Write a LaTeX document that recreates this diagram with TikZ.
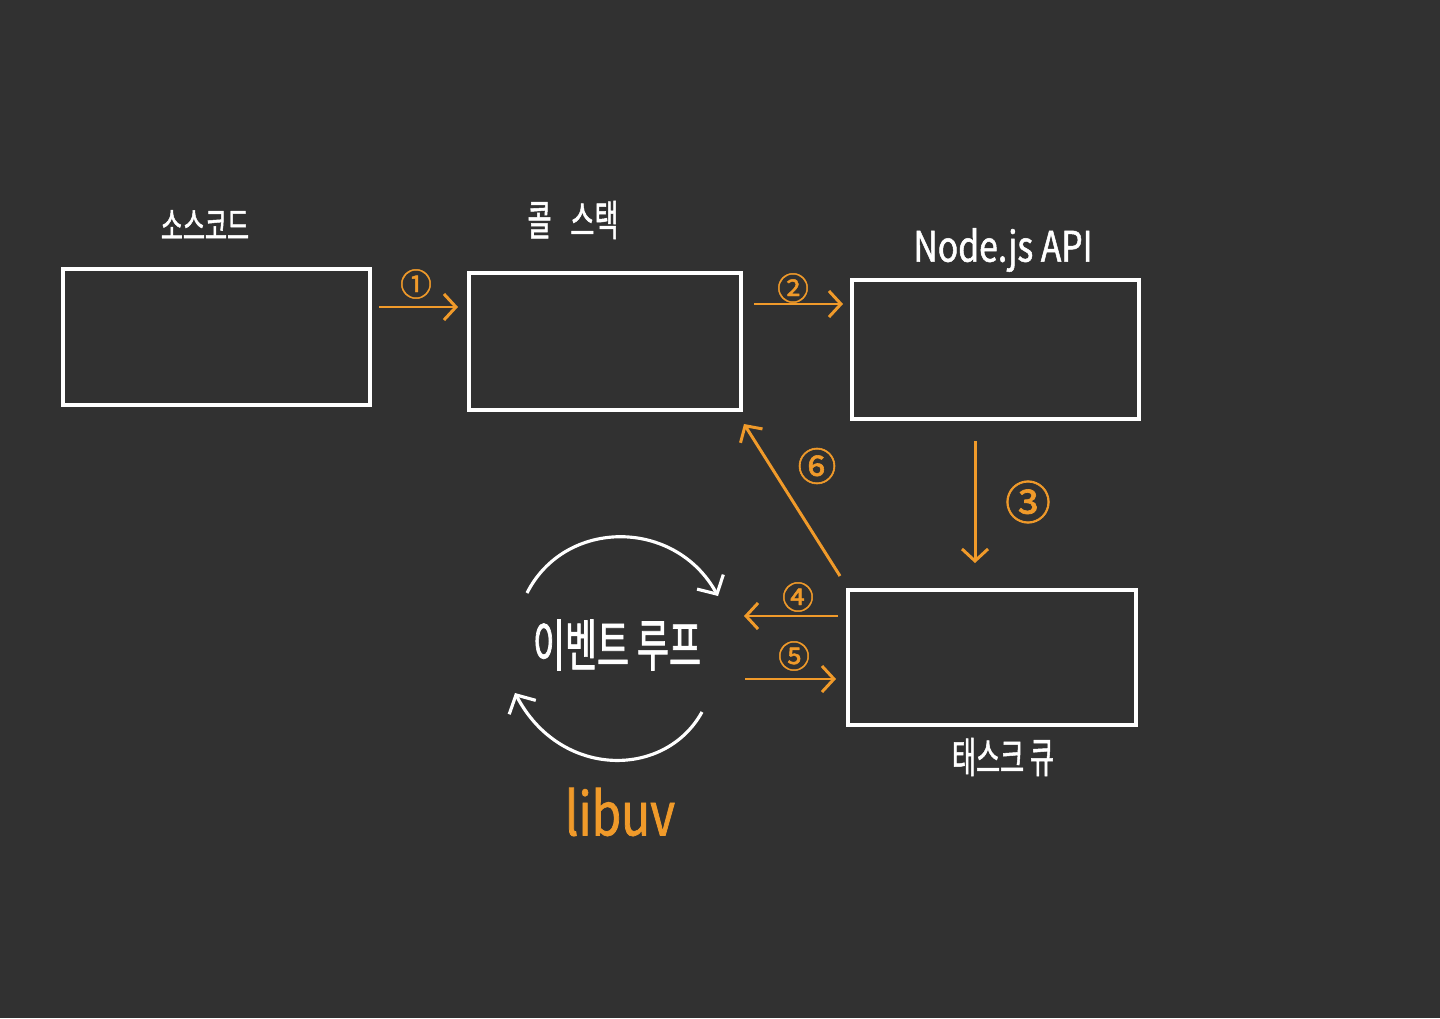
\documentclass[tikz,border=0pt]{standalone}
\usepackage{fontspec}
\usetikzlibrary{arrows.meta}
\newfontfamily\hand[FakeStretch=0.62,FakeBold=1.2]{Noto Sans CJK KR}
\newfontfamily\handwide[FakeStretch=0.8,FakeBold=1.2]{Noto Sans CJK KR}
\newfontfamily\circnum[FakeBold=1.5]{Noto Sans CJK KR}
\definecolor{bgdark}{HTML}{313131}
\definecolor{flow}{HTML}{F09A2A}
\tikzset{
    box/.style={draw=white, line width=0.9pt, minimum width=#1, minimum height=1.36cm, inner sep=0pt, outer sep=0pt},
    title/.style={text=white, font=\hand\fontsize{11}{11}\selectfont},
    step arrow/.style={draw=flow, line width=0.85pt, -{Straight Barb[length=1.2mm,width=2.6mm]}},
    loop arrow/.style={draw=white, line width=0.9pt, -{Straight Barb[length=1.4mm,width=3mm]}},
    num/.style={text=flow, font=\circnum\fontsize{9}{9}\selectfont, inner sep=0pt}
}
\begin{document}
\begin{tikzpicture}
    % background
    \fill[bgdark] (0,0) rectangle (14.4,10.18);
    \useasboundingbox (0,0) rectangle (14.4,10.18);
    % boxes
    \node[box=3.07cm] (src) at (2.165,6.81) {};
    \node[box=2.72cm, minimum height=1.37cm] (stack) at (6.05,6.765) {};
    \node[box=2.87cm, minimum height=1.39cm] (api) at (9.955,6.685) {};
    \node[box=2.88cm, minimum height=1.35cm] (queue) at (9.92,3.605) {};
    % titles
    \node[title] (srct) at (2.05,7.93) {소스코드};
    \node[title, font=\hand\fontsize{12}{12}\selectfont] (stackt) at (5.73,7.98) {콜\hspace{0.45em}스택};
    \node[title, font=\handwide\fontsize{12}{12}\selectfont] (apit) at (10.03,7.68) {Node.js API};
    \node[title, font=\hand\fontsize{12}{12}\selectfont] (queuet) at (10.03,2.61) {태스크 큐};
    % arrow ends
    \coordinate (a1s) at (3.79,7.11);
    \coordinate (a1e) at (4.58,7.11);
    \coordinate (a2s) at (7.54,7.14);
    \coordinate (a2e) at (8.43,7.14);
    \coordinate (a3s) at (9.75,5.77);
    \coordinate (a3e) at (9.75,4.55);
    \coordinate (a4s) at (8.38,4.02);
    \coordinate (a4e) at (7.44,4.02);
    \coordinate (a5s) at (7.45,3.39);
    \coordinate (a5e) at (8.36,3.39);
    \coordinate (a6s) at (8.40,4.42);
    \coordinate (a6e) at (7.44,5.94);
    % steps
    \draw[step arrow] (a1s) -- (a1e);
    \draw[step arrow] (a2s) -- (a2e);
    \draw[step arrow] (a3s) -- (a3e);
    \draw[step arrow] (a4s) -- (a4e);
    \draw[step arrow] (a5s) -- (a5e);
    \draw[step arrow] (a6s) -- (a6e);
    \node[num] (n1) at (4.16,7.34) {①};
    \node[num] (n2) at (7.93,7.30) {②};
    \node[num, font=\circnum\fontsize{13}{13}\selectfont] (n3) at (10.28,5.16) {③};
    \node[num] (n4) at (7.98,4.21) {④};
    \node[num] (n5) at (7.94,3.62) {⑤};
    \node[num, font=\circnum\fontsize{11}{11}\selectfont] (n6) at (8.17,5.52) {⑥};
    % event loop
    \node[title, font=\hand\fontsize{16}{16}\selectfont] (loop) at (6.17,3.73) {이벤트 루프};
    \node[text=flow, font=\handwide\fontsize{17}{17}\selectfont] (libuv) at (6.20,2.06) {libuv};
    \coordinate (t1) at (5.27,4.25);
    \coordinate (t2) at (7.18,4.22);
    \coordinate (b1) at (7.02,3.06);
    \coordinate (b2) at (5.15,3.25);
    \draw[loop arrow] (t1) .. controls (5.65,5.0) and (6.75,5.0) .. (t2);
    \draw[loop arrow] (b1) .. controls (6.65,2.39) and (5.6,2.39) .. (b2);
\end{tikzpicture}
\end{document}
